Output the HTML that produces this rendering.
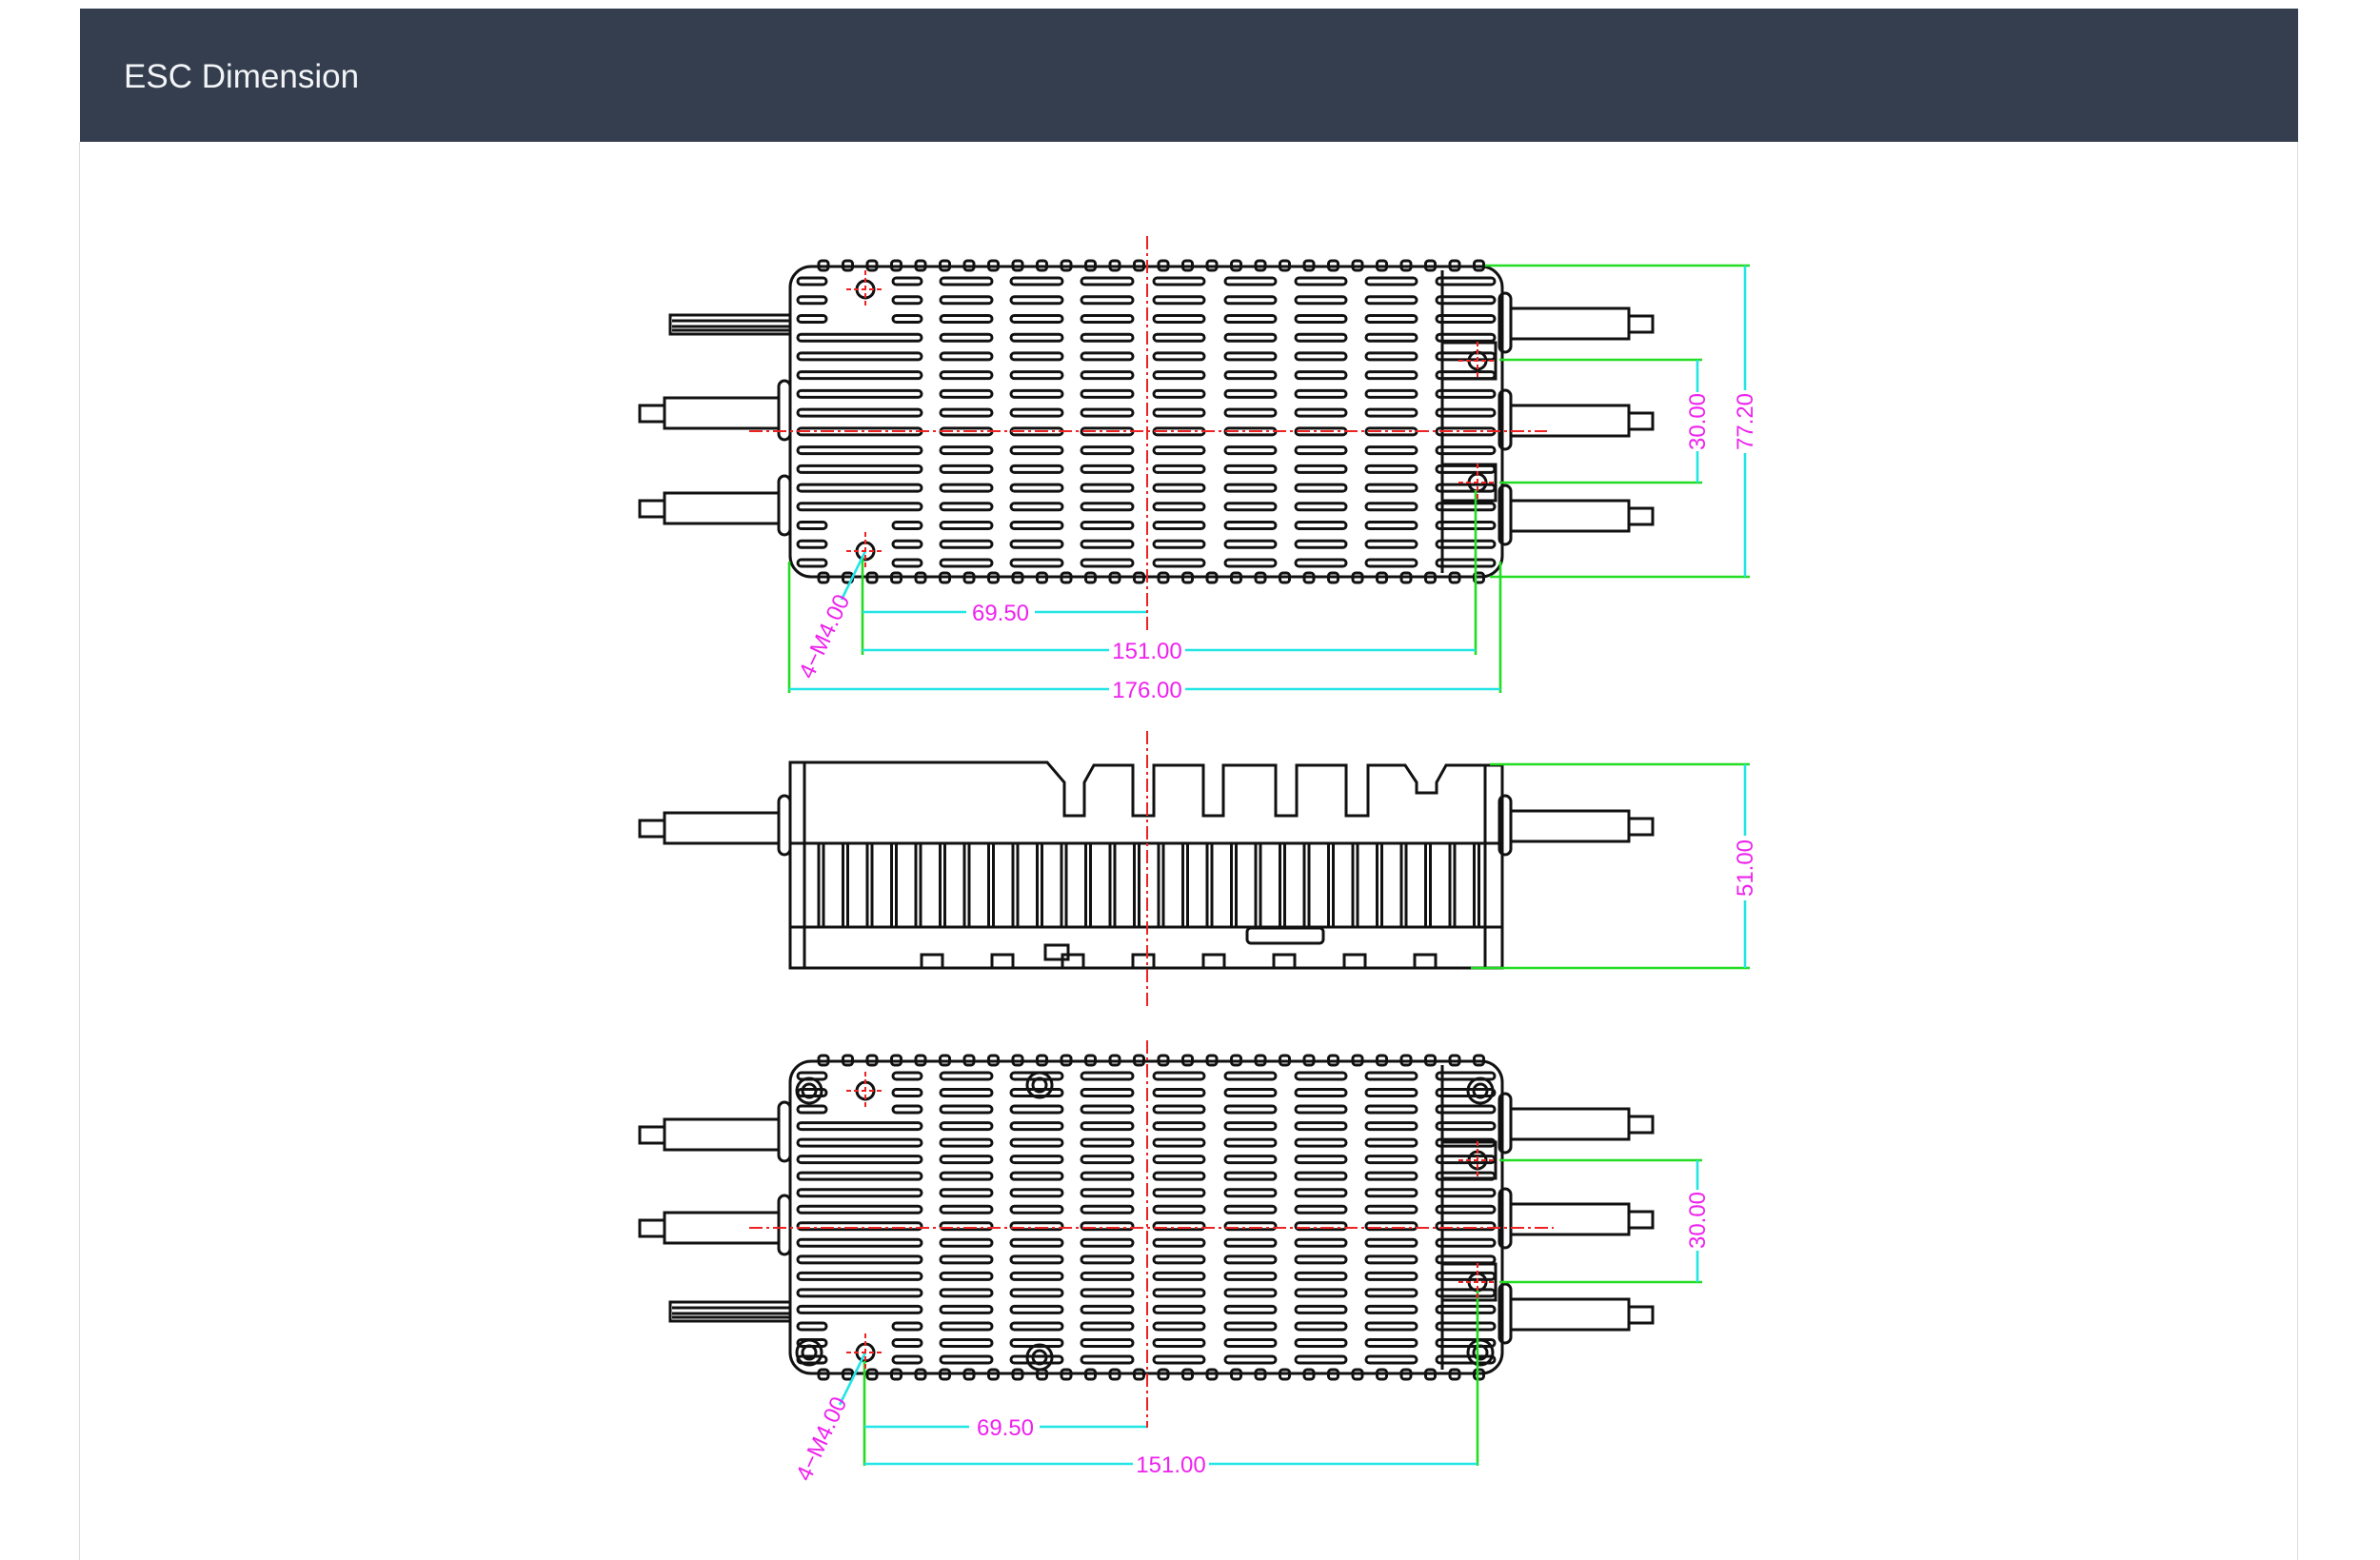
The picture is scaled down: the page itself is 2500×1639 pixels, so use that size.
<!DOCTYPE html>
<html><head><meta charset="utf-8">
<style>
html,body{margin:0;padding:0;background:#fff;}
body{width:2500px;height:1639px;position:relative;overflow:hidden;font-family:"Liberation Sans",sans-serif;}
#hdr{position:absolute;left:84px;top:9px;width:2330px;height:140px;background:#343e4e;}
#hdr span{position:absolute;left:46px;top:52px;font-size:35px;color:#f2f4f7;}
#pl{position:absolute;left:83px;top:149px;width:1px;height:1490px;background:#ddd;}
#pr{position:absolute;left:2413px;top:149px;width:1px;height:1490px;background:#ddd;}
svg{position:absolute;left:0;top:0;}
</style></head><body>
<div id="hdr"><span>ESC Dimension</span></div>
<div id="pl"></div><div id="pr"></div>
<svg id="s" width="2500" height="1639" viewBox="0 0 2500 1639">
<g id="draw" fill="none" stroke="#111" stroke-width="3"></g>
<g id="dims" font-family="Liberation Sans, sans-serif" font-size="24" fill="#ee22ee" text-anchor="middle">
 <g stroke="#22dd22" stroke-width="2.6">
  <line x1="1560" y1="279" x2="1838" y2="279"/><line x1="1565" y1="606" x2="1838" y2="606"/>
  <line x1="1575" y1="378" x2="1788" y2="378"/><line x1="1575" y1="507" x2="1788" y2="507"/>
  <line x1="829" y1="590" x2="829" y2="728"/><line x1="1576" y1="590" x2="1576" y2="728"/>
  <line x1="906" y1="585" x2="906" y2="688"/><line x1="1550" y1="515" x2="1550" y2="688"/>
  <line x1="1565" y1="803" x2="1838" y2="803"/><line x1="1545" y1="1017" x2="1838" y2="1017"/>
  <line x1="1575" y1="1219" x2="1788" y2="1219"/><line x1="1575" y1="1347" x2="1788" y2="1347"/>
  <line x1="908" y1="1430" x2="908" y2="1540"/><line x1="1552" y1="1355" x2="1552" y2="1540"/>
 </g>
 <g stroke="#22e5e5" stroke-width="2.6">
  <line x1="1833" y1="279" x2="1833" y2="410"/><line x1="1833" y1="476" x2="1833" y2="606"/>
  <line x1="1783" y1="378" x2="1783" y2="412"/><line x1="1783" y1="474" x2="1783" y2="507"/>
  <line x1="906" y1="643" x2="1015" y2="643"/><line x1="1087" y1="643" x2="1205" y2="643"/>
  <line x1="906" y1="683" x2="1165" y2="683"/><line x1="1245" y1="683" x2="1550" y2="683"/>
  <line x1="829" y1="724" x2="1165" y2="724"/><line x1="1245" y1="724" x2="1576" y2="724"/>
  <line x1="1833" y1="803" x2="1833" y2="878"/><line x1="1833" y1="946" x2="1833" y2="1017"/>
  <line x1="1783" y1="1219" x2="1783" y2="1250"/><line x1="1783" y1="1314" x2="1783" y2="1347"/>
  <line x1="908" y1="1499" x2="1018" y2="1499"/><line x1="1092" y1="1499" x2="1205" y2="1499"/>
  <line x1="908" y1="1538" x2="1190" y2="1538"/><line x1="1270" y1="1538" x2="1552" y2="1538"/>
  <line x1="909" y1="579" x2="884" y2="630"/><line x1="909" y1="1421" x2="882" y2="1476"/>
 </g>
 <text x="1051" y="652">69.50</text>
 <text x="1205" y="692">151.00</text>
 <text x="1205" y="733">176.00</text>
 <text x="1056" y="1508">69.50</text>
 <text x="1230" y="1547">151.00</text>
 <text transform="translate(1841,443) rotate(-90)">77.20</text>
 <text transform="translate(1791,443) rotate(-90)">30.00</text>
 <text transform="translate(1841,912) rotate(-90)">51.00</text>
 <text transform="translate(1791,1282) rotate(-90)">30.00</text>
 <text transform="translate(873,672) rotate(-65)">4−M4.00</text>
 <text transform="translate(870,1515) rotate(-65)">4−M4.00</text>
</g>
<g id="red" stroke="#e22" stroke-width="2" stroke-dasharray="14 4 3 4" fill="none"></g>
</svg>
<script>
(function(){
var d=document.getElementById('draw'),r=document.getElementById('red'),h='',rh='';
function L(a,b,c,e){h+='<line x1="'+a+'" y1="'+b+'" x2="'+c+'" y2="'+e+'"/>';}
function R(x,y,w,hh,rx){h+='<rect x="'+x+'" y="'+y+'" width="'+w+'" height="'+hh+'" rx="'+(rx||0)+'"/>';}
function C(x,y,rr){h+='<circle cx="'+x+'" cy="'+y+'" r="'+rr+'"/>';}
function hole(x,y){C(x,y,9);rh+='<line x1="'+(x-20)+'" y1="'+y+'" x2="'+(x+20)+'" y2="'+y+'" stroke-dasharray="5 3"/><line x1="'+x+'" y1="'+(y-20)+'" x2="'+x+'" y2="'+(y+20)+'" stroke-dasharray="5 3"/>';}
function RL(a,b,c,e){rh+='<line x1="'+a+'" y1="'+b+'" x2="'+c+'" y2="'+e+'"/>';}
function cabR(y){R(1575,y-17,12,62,6);R(1587,y-1,124,32);R(1711,y+7,25,17);}
function cabL(y){R(818,y-34,12,62,6);R(698,y-16,120,32);R(672,y-8,26,17);}
function bundle(y){R(704,y-10,126,20);L(706,y-4,830,y-4);L(706,y+2,830,y+2);L(706,y+6,830,y+6);}
var cols=[[988,1042],[1062,1116],[1136,1190],[1212,1265],[1287,1340],[1361,1414],[1435,1488],[1509,1570]];
function top(y0,y1,rows){
  R(830,y0,748,y1-y0,22);
  for(var x=860;x<1565;x+=25.5){R(x,y0-6,10,10,3);R(x,y1-4,10,10,3);}
  var n=rows,p=(y1-y0-30)/(n-1);
  for(var i=0;i<n;i++){var y=y0+12+i*p;
    for(var c=0;c<cols.length;c++){R(cols[c][0],y,cols[c][1]-cols[c][0],7,3.5);}
    if(i>2&&i<n-3){R(838,y,130,7,3.5);}else{R(938,y,30,7,3.5);R(838,y,30,7,3.5);}
  }
  L(1515,y0+4,1515,y1-4);
}
top(280,606,16);
bundle(341);cabL(434);cabL(534);
cabR(325);cabR(427);cabR(527);
R(1515,360,56,38);R(1515,488,56,38);
hole(909,304);hole(909,579);hole(1552,379);hole(1552,507);
RL(1205,248,1205,664);RL(787,453,1625,453);
h+='<path d="M830,801 L1100,801 L1118,822 L1118,857 L1139,857 L1139,822 L1149,804 L1190,804 L1190,857 L1212,857 L1212,804 L1264,804 L1264,857 L1285,857 L1285,804 L1340,804 L1340,857 L1362,857 L1362,804 L1414,804 L1414,857 L1437,857 L1437,804 L1476,804 L1488,822 L1488,833 L1509,833 L1509,822 L1519,804 L1578,804 L1578,1017 L830,1017 Z"/>';
L(830,886,1578,886);L(830,974,1578,974);L(845,801,845,1017);L(1560,804,1560,1017);
for(var x=860;x<1560;x+=25.5){L(x,886,x,974);L(x+5,886,x+5,974);}
for(var bx=968;bx<1540;bx+=74){R(bx,1003,22,14);}
R(1098,993,24,15);R(1310,975,80,16,4);
cabL(870);cabR(853);
RL(1205,768,1205,1059);
top(1115,1443,18);
cabL(1192);cabL(1290);bundle(1378);
cabR(1166);cabR(1266);cabR(1366);
R(1515,1200,56,38);R(1515,1328,56,38);
[[850,1146],[1555,1146],[850,1421],[1555,1421],[1092,1140],[1092,1426]].forEach(function(p){C(p[0],p[1],13);C(p[0],p[1],7);});
hole(909,1146);hole(909,1421);hole(1552,1219);hole(1552,1347);
RL(1205,1093,1205,1500);RL(787,1290,1632,1290);
d.innerHTML=h;r.innerHTML=rh;
})();
</script>
</body></html>
